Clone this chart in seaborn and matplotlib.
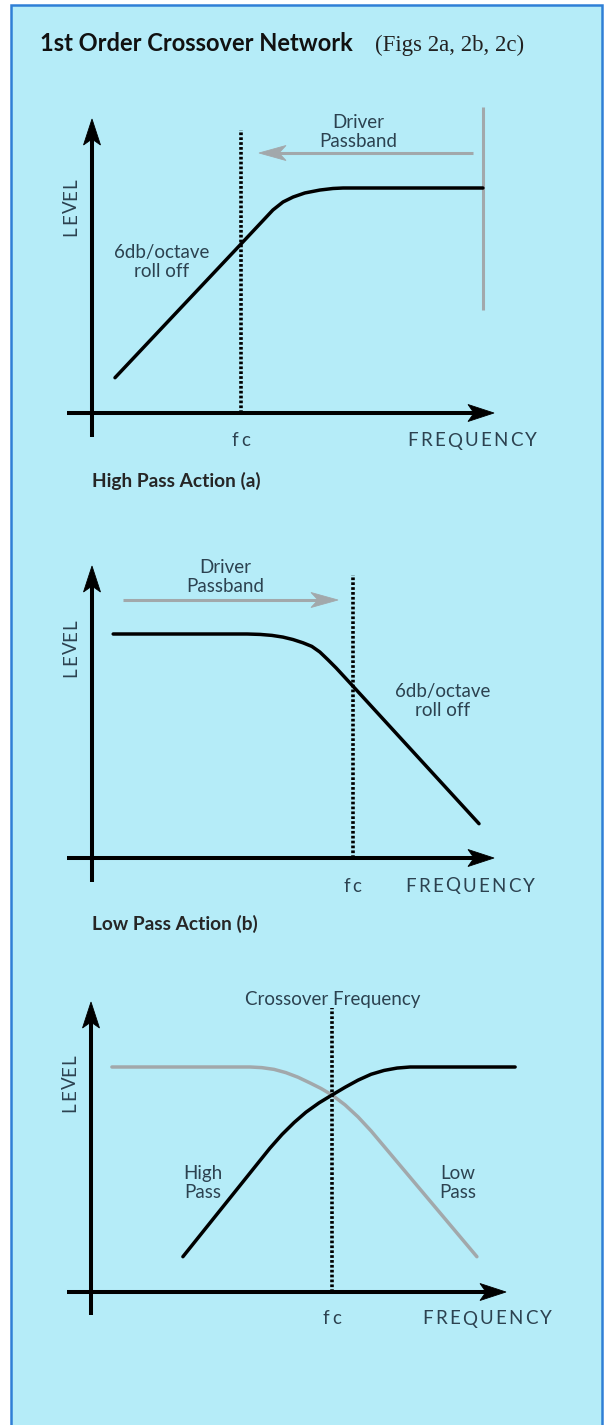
import matplotlib
matplotlib.use("Agg")
import matplotlib.pyplot as plt
from matplotlib.patches import Rectangle, Polygon
import seaborn as sns

# Response curves: frequency in octaves relative to fc, level in dB re passband
hp_a_oct = [-3.00, 0.00, 0.76, 1.00, 1.24, 1.52, 1.88, 2.19, 2.43, 5.76]
hp_a_db = [-27.1, -8.0, -3.14, -2.0, -1.29, -0.71, -0.29, -0.07, 0.0, 0.0]

lp_b_oct = [-5.71, -2.52, -2.21, -1.93, -1.67, -1.43, -1.19, -0.98, -0.79, -0.60, -0.40, 0.00, 3.00]
lp_b_db = [0.0, 0.0, -0.06, -0.20, -0.44, -0.79, -1.26, -1.77, -2.57, -3.66, -4.86, -7.46, -27.1]

hp_c_oct = [-3.55, -1.48, -1.19, -0.90, -0.62, -0.31, 0.00, 0.31, 0.62, 0.93, 1.24, 1.55, 1.86, 4.36]
hp_c_db = [-27.1, -11.61, -9.64, -7.92, -6.46, -5.13, -4.0, -2.90, -1.88, -1.04, -0.49, -0.15, 0.0, 0.0]

lp_c_oct = [-5.24, -1.95, -1.67, -1.38, -1.10, -0.81, -0.52, -0.26, 0.00, 0.31, 0.62, 0.93, 3.45]
lp_c_db = [0.0, 0.0, -0.09, -0.34, -0.80, -1.46, -2.29, -3.07, -4.0, -5.41, -7.13, -9.13, -27.1]

title_main = "1st Order Crossover Network"
title_sub = "(Figs 2a, 2b, 2c)"
captions = ["High Pass Action (a)", "Low Pass Action (b)"]
freq_label = "FREQUENCY"
level_label = "LEVEL"
fc_label = "fc"

W, H = 609, 1425
PX_OCT, PX_DB = 42.0, 7.0

BG = "#b5ecf8"
FRAME = "#2f7fd6"
INK = "#2c4250"
GREY = "#a2a8ab"

sns.set_style("white")
plt.rcParams["font.family"] = ["Lato", "DejaVu Sans"]

fig = plt.figure(figsize=(W / 100, H / 100), dpi=100)
fig.patch.set_facecolor("white")
fig.add_artist(Rectangle((11 / W, -0.01), (602 - 11) / W, 1.01 - 5 / H,
                         transform=fig.transFigure, facecolor=BG,
                         edgecolor=FRAME, linewidth=1.8, zorder=0))
renderer = fig.canvas.get_renderer()


def fx(x):
    return x / W


def fy(y):
    return 1 - y / H


def panel(fc_px, ref_px):
    ax = fig.add_axes([0, 0, 1, 1])
    ax.set_xlim(-fc_px / PX_OCT, (W - fc_px) / PX_OCT)
    ax.set_ylim((ref_px - H) / PX_DB, ref_px / PX_DB)
    ax.set_axis_off()
    return ax


def db_at(ref_px, y):
    return (ref_px - y) / PX_DB


def arrow(x0, y0, x1, y1, color, lw, length, half_w, notch):
    """Line with a barbed (notched) head, in top-left pixel coordinates."""
    dx, dy = x1 - x0, y1 - y0
    n = (dx * dx + dy * dy) ** 0.5
    ux, uy = dx / n, dy / n
    px, py = -uy, ux
    bx, by = x1 - ux * length, y1 - uy * length
    nx, ny = bx + ux * notch, by + uy * notch
    fig.add_artist(plt.Line2D([fx(x0), fx(nx + ux)], [fy(y0), fy(ny + uy)],
                              transform=fig.transFigure, color=color, lw=lw,
                              solid_capstyle="butt", zorder=6))
    pts = [(x1, y1), (bx + px * half_w, by + py * half_w), (nx, ny),
           (bx - px * half_w, by - py * half_w)]
    fig.add_artist(Polygon([(fx(a), fy(b)) for a, b in pts], closed=True,
                           transform=fig.transFigure, facecolor=color,
                           edgecolor=color, lw=0.6, zorder=6))


def axes_arrows(x_axis_y, y_axis_x, y_top, y_bottom, x_tip):
    arrow(y_axis_x, y_bottom, y_axis_x, y_top, "black", 2.9, 26, 8.5, 6)
    arrow(67, x_axis_y, x_tip, x_axis_y, "black", 2.9, 26, 8.5, 6)


def text(x, y, s, size=13.5, color=INK, **kw):
    kw.setdefault("ha", "center")
    kw.setdefault("va", "center")
    fig.text(fx(x), fy(y), s, fontsize=size, color=color, **kw)


def spaced(xc, yc, s, span, size=13.5):
    """Letter-spaced label centred on (xc, yc) covering `span` pixels."""
    widths = []
    for ch in s:
        t = fig.text(0, 0, ch, fontsize=size)
        widths.append(t.get_window_extent(renderer).width)
        t.remove()
    gap = (span - sum(widths)) / max(len(s) - 1, 1)
    pos = -span / 2
    for ch, w in zip(s, widths):
        text(xc + pos + w / 2, yc, ch, size=size)
        pos += w + gap


def spaced_vertical(xc, yc, s, pitch, size=13.5):
    """Rotated letter-spaced label, letters on an even pitch, read upwards."""
    n = len(s)
    for i, ch in enumerate(s):
        off = (i - (n - 1) / 2) * pitch
        text(xc, yc - off, ch, size=size, rotation=90)


def fc_line(ax, ref_px, y_top, y_bottom):
    ax.vlines(0, db_at(ref_px, y_bottom), db_at(ref_px, y_top), colors="black",
              linewidth=2.6, linestyles=(0, (0.75, 0.6)), zorder=5)


curve_kw = dict(linewidth=2.5, solid_capstyle="round", solid_joinstyle="round",
                sort=False, estimator=None, legend=False)
two_line = dict(linespacing=1.2)

# Title
text(40, 51, title_main, size=17, color="#111111", ha="left", va="baseline",
     fontweight="bold")
text(375, 51, title_sub, size=16.5, color="#222222", ha="left", va="baseline",
     family=["Liberation Serif", "DejaVu Serif"])

# (a) high pass
ref_a = 188
ax_a = panel(241, ref_a)
sns.lineplot(x=hp_a_oct, y=hp_a_db, ax=ax_a, color="black", zorder=3, **curve_kw)
fc_line(ax_a, ref_a, 130, 413)
ax_a.vlines(hp_a_oct[-1], db_at(ref_a, 310), db_at(ref_a, 107), colors=GREY,
            linewidth=2.2, zorder=2)
arrow(473, 153, 259, 153, GREY, 2.2, 27, 7.5, 7)
axes_arrows(413, 92, 119, 437, 494)
text(358, 132, "Driver\nPassband", **two_line)
text(162, 262, "6db/octave\nroll off", **two_line)
spaced(241, 441, fc_label, 18)
spaced(472, 441, freq_label, 129)
spaced_vertical(71, 207, level_label, 12)
text(92, 487, captions[0], size=13.8, color="#262626", ha="left",
     va="baseline", fontweight="bold")

# (b) low pass
ref_b = 634
ax_b = panel(353, ref_b)
sns.lineplot(x=lp_b_oct, y=lp_b_db, ax=ax_b, color="black", zorder=3, **curve_kw)
fc_line(ax_b, ref_b, 575, 858)
arrow(123, 600, 338, 600, GREY, 2.2, 27, 7.5, 7)
axes_arrows(858, 92, 566, 882, 494)
text(225, 577, "Driver\nPassband", **two_line)
text(443, 701, "6db/octave\nroll off", **two_line)
spaced(352, 886, fc_label, 18)
spaced(470, 886, freq_label, 129)
spaced_vertical(71, 648, level_label, 12)
text(92, 930, captions[1], size=13.8, color="#262626", ha="left",
     va="baseline", fontweight="bold")

# (c) combined crossover
ref_c = 1067
ax_c = panel(332, ref_c)
sns.lineplot(x=lp_c_oct, y=lp_c_db, ax=ax_c, color=GREY, zorder=2, **curve_kw)
sns.lineplot(x=hp_c_oct, y=hp_c_db, ax=ax_c, color="black", zorder=3, **curve_kw)
fc_line(ax_c, ref_c, 1008, 1292)
axes_arrows(1292, 91, 1002, 1315, 506)
text(333, 1000, "Crossover Frequency")
text(203, 1183, "High\nPass", **two_line)
text(458, 1183, "Low\nPass", **two_line)
spaced(332, 1319, fc_label, 18)
spaced(487, 1319, freq_label, 130)
spaced_vertical(70, 1083, level_label, 12)

fig.savefig("out.png", dpi=100, facecolor=fig.get_facecolor())
